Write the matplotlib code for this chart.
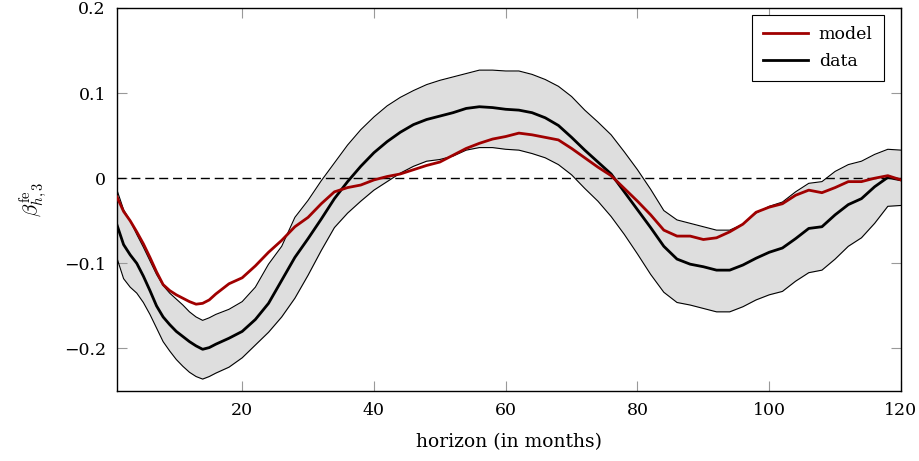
import matplotlib
matplotlib.use("Agg")
import matplotlib.pyplot as plt

horizon = [1, 2, 3, 4, 5, 6, 7, 8, 9, 10, 11, 12, 13, 14, 15, 16,
           18, 20, 22, 24, 26, 28, 30, 32, 34, 36, 38, 40, 42, 44, 46, 48, 50,
           52, 54, 56, 58, 60, 62, 64, 66, 68, 70, 72, 74, 76, 78, 80, 82, 84,
           86, 88, 90, 92, 94, 96, 98, 100, 102, 104, 106, 108, 110, 112, 114,
           116, 118, 120]

data = [-0.055, -0.078, -0.090, -0.100, -0.115, -0.132, -0.150, -0.163, -0.172, -0.180,
        -0.186, -0.192, -0.197, -0.201, -0.199, -0.195,
        -0.188, -0.180, -0.166, -0.147, -0.120, -0.093, -0.071, -0.048, -0.024, -0.004,
        0.014, 0.030, 0.043, 0.054, 0.063, 0.069, 0.073,
        0.077, 0.082, 0.084, 0.083, 0.081, 0.080, 0.077, 0.071, 0.062, 0.048,
        0.033, 0.019, 0.005, -0.016, -0.037, -0.058, -0.080,
        -0.095, -0.101, -0.104, -0.108, -0.108, -0.102, -0.094, -0.087, -0.082, -0.071,
        -0.059, -0.057, -0.043, -0.031, -0.024, -0.010, 0.001, -0.002]

model = [-0.022, -0.039, -0.050, -0.063, -0.077, -0.093, -0.110, -0.125, -0.132, -0.137,
         -0.141, -0.145, -0.148, -0.147, -0.143, -0.136,
         -0.124, -0.117, -0.103, -0.087, -0.073, -0.057, -0.046, -0.030, -0.016, -0.011,
         -0.008, -0.002, 0.002, 0.005, 0.010, 0.015, 0.019,
         0.027, 0.035, 0.041, 0.046, 0.049, 0.053, 0.051, 0.048, 0.045, 0.035,
         0.024, 0.013, 0.003, -0.012, -0.027, -0.043, -0.061,
         -0.068, -0.068, -0.072, -0.070, -0.063, -0.054, -0.040, -0.034, -0.030, -0.020,
         -0.014, -0.017, -0.011, -0.004, -0.004, 0.000, 0.003, -0.002]

upper = [-0.014, -0.037, -0.050, -0.066, -0.081, -0.097, -0.113, -0.126, -0.135, -0.142,
         -0.149, -0.157, -0.163, -0.167, -0.164, -0.160,
         -0.154, -0.145, -0.128, -0.101, -0.080, -0.046, -0.026, -0.003, 0.018, 0.039,
         0.057, 0.072, 0.085, 0.095, 0.103, 0.110, 0.115,
         0.119, 0.123, 0.127, 0.127, 0.126, 0.126, 0.122, 0.116, 0.108, 0.096,
         0.080, 0.066, 0.051, 0.031, 0.010, -0.013, -0.038,
         -0.049, -0.053, -0.057, -0.061, -0.061, -0.054, -0.041, -0.033, -0.028, -0.016,
         -0.006, -0.004, 0.008, 0.016, 0.020, 0.028, 0.034, 0.033]

lower = [-0.094, -0.118, -0.128, -0.135, -0.146, -0.160, -0.176, -0.192, -0.203, -0.213,
         -0.221, -0.228, -0.233, -0.236, -0.233, -0.229,
         -0.222, -0.211, -0.196, -0.181, -0.163, -0.141, -0.114, -0.085, -0.058, -0.041,
         -0.027, -0.014, -0.004, 0.006, 0.014, 0.020, 0.022,
         0.026, 0.033, 0.036, 0.036, 0.034, 0.033, 0.029, 0.024, 0.016, 0.004,
         -0.012, -0.027, -0.045, -0.066, -0.089, -0.113, -0.134,
         -0.146, -0.149, -0.153, -0.157, -0.157, -0.151, -0.143, -0.137, -0.133, -0.121,
         -0.111, -0.108, -0.095, -0.080, -0.070, -0.053, -0.033, -0.032]

xticks = [20, 40, 60, 80, 100, 120]
yticks = [-0.2, -0.1, 0, 0.1, 0.2]
ytick_labels = ["\u22120.2", "\u22120.1", "0", "0.1", "0.2"]

plt.rcParams["font.family"] = ["DejaVu Serif"]
plt.rcParams["mathtext.fontset"] = "cm"

fig = plt.figure(figsize=(9.19, 4.61), dpi=100)
ax = fig.add_axes([117 / 919, 1 - 391 / 461, 784 / 919, 383 / 461])

ax.fill_between(horizon, lower, upper, color="#dedede", linewidth=0, zorder=1)
ax.plot(horizon, upper, color="black", linewidth=0.8, zorder=2, solid_joinstyle="round")
ax.plot(horizon, lower, color="black", linewidth=0.8, zorder=2, solid_joinstyle="round")
ax.axhline(0, color="black", linewidth=1.0, linestyle=(0, (6.5, 3.5)), zorder=2)
ax.plot(horizon, model, color="#a00000", linewidth=2.0, label="model", zorder=4,
        solid_joinstyle="round")
ax.plot(horizon, data, color="black", linewidth=2.0, label="data", zorder=3,
        solid_joinstyle="round")

ax.set_xlim(1, 120)
ax.set_ylim(-0.25, 0.2)
ax.set_xticks(xticks)
ax.set_yticks(yticks)
ax.set_yticklabels(ytick_labels)
ax.tick_params(direction="in", length=7, width=0.8, color="#999999",
               top=True, right=True, labelsize=12.5, pad=8)
for s in ax.spines.values():
    s.set_linewidth(1.0)

ax.set_xlabel("horizon (in months)", fontsize=13.5, labelpad=10)
ax.set_ylabel(r"$\beta^{\mathrm{fe}}_{h,3}$", fontsize=15, labelpad=10)

handles, labels = ax.get_legend_handles_labels()
order = [labels.index("model"), labels.index("data")]
leg = ax.legend([handles[i] for i in order], [labels[i] for i in order],
                loc="upper right", bbox_to_anchor=(884 / 919, 1 - 15 / 461),
                bbox_transform=fig.transFigure,
                fontsize=12.5, frameon=True, fancybox=False,
                edgecolor="black", framealpha=1, handlelength=2.6,
                borderaxespad=0, borderpad=0.65, labelspacing=0.55, handletextpad=0.6)
leg.get_frame().set_linewidth(0.8)

fig.savefig("out.png", dpi=100)
